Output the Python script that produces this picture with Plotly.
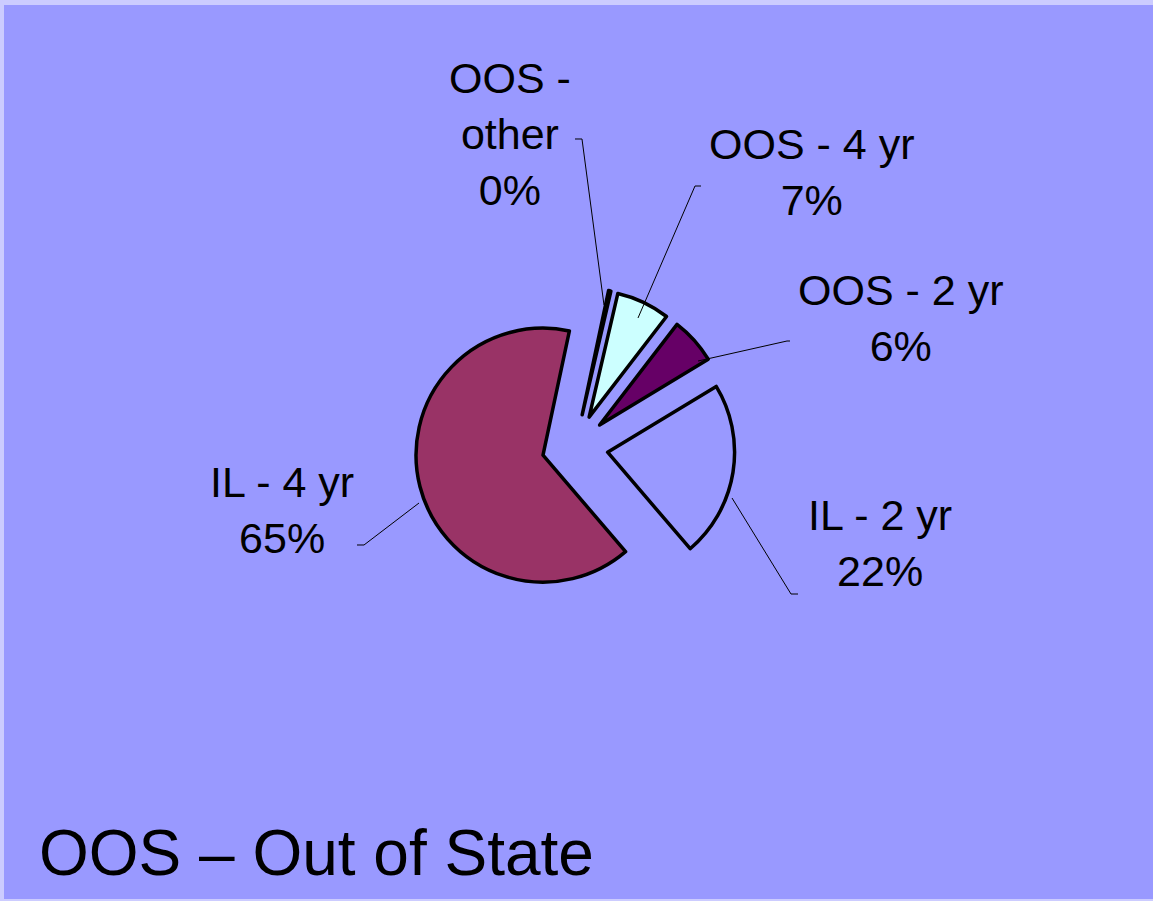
import plotly.graph_objects as go

# ---- data ----
labels = ["OOS - other", "OOS - 4 yr", "OOS - 2 yr", "IL - 2 yr", "IL - 4 yr"]
values = [0.3, 6.8, 5.9, 22.4, 64.6]
label_text = ["OOS -<br>other<br>0%", "OOS - 4 yr<br>7%", "OOS - 2 yr<br>6%", "IL - 2 yr<br>22%", "IL - 4 yr<br>65%"]
footer = "OOS \u2013 Out of State"

# ---- styles / layout ----
colors = ["#FFFFFF", "#CCFFFF", "#660066", "#9999FF", "#993366"]
W, H = 1153, 901
FONT = "Liberation Sans, Arial, sans-serif"

def px(x):
    return x / W

def py(y):
    return 1 - y / H

cx, cy, half = 575, 447, 160  # pie box in pixels

fig = go.Figure(go.Pie(
    labels=labels,
    values=values,
    sort=False,
    direction="clockwise",
    rotation=12,
    pull=[0.26] * len(values),
    marker=dict(colors=colors, line=dict(color="black", width=3.5)),
    textinfo="none",
    hoverinfo="skip",
    showlegend=False,
    domain=dict(x=[px(cx - half), px(cx + half)], y=[py(cy + half), py(cy - half)]),
))

# label positions (pixel centres) and leader paths (pixel points)
label_pos = [(510, 134), (811, 172), (900, 318), (880, 543), (282, 510)]
leaders = [
    [(604, 305), (582, 139), (575, 139)],
    [(638, 318), (695, 186), (701, 186)],
    [(698, 361), (787, 341), (790, 341)],
    [(732, 498), (791, 594), (798, 594)],
    [(419, 503), (364, 545), (357, 545)],
]

annotations = []
for txt, (x, y) in zip(label_text, label_pos):
    annotations.append(dict(
        x=px(x), y=py(y), xref="paper", yref="paper", text=txt, showarrow=False,
        xanchor="center", yanchor="middle", align="center",
        font=dict(family=FONT, size=43, color="black"),
    ))
annotations.append(dict(
    x=px(37), y=py(853), xref="paper", yref="paper", text=footer, showarrow=False,
    xanchor="left", yanchor="middle", align="left",
    font=dict(family=FONT, size=64, color="black"),
))

shapes = [dict(type="rect", xref="paper", yref="paper", x0=px(4), x1=1.02, y0=py(899), y1=py(5),
               fillcolor="#9999FF", line=dict(width=0), layer="below")]
for pts in leaders:
    path = "M " + " L ".join(f"{px(a):.5f},{py(b):.5f}" for a, b in pts)
    shapes.append(dict(type="path", xref="paper", yref="paper", path=path,
                       line=dict(color="black", width=1)))

fig.update_layout(
    width=W, height=H,
    margin=dict(l=0, r=0, t=0, b=0),
    paper_bgcolor="#CCCCFF",
    plot_bgcolor="#9999FF",
    annotations=annotations,
    shapes=shapes,
)

fig.write_html(
    "out.html",
    config={"displayModeBar": False},
    post_script="document.body.style.margin='0';document.body.style.overflow='hidden';"
                "document.documentElement.style.background='#CCCCFF';",
)
